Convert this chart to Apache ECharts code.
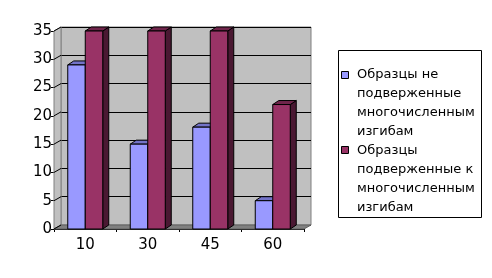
<!DOCTYPE html>
<html><head><meta charset="utf-8">
<script src="https://cdn.jsdelivr.net/npm/echarts@6/dist/echarts.min.js"></script>
<style>html,body{margin:0;padding:0;background:#fff}#c{width:492px;height:278px}</style>
</head><body><div id="c"></div>
<script>
const categories = ['10', '30', '45', '60'];
const seriesNames = ['Образцы не подверженные многочисленным изгибам', 'Образцы подверженные к многочисленным изгибам'];
const legendLines = [
  ['Образцы не', 'подверженные', 'многочисленным', 'изгибам'],
  ['Образцы', 'подверженные к', 'многочисленным', 'изгибам']
];
const notExposed = [29, 15, 18, 5];
const exposed = [35, 35, 35, 22];
const yTicks = [0, 5, 10, 15, 20, 25, 30, 35];

const FONT = 'DejaVu Sans';
const DX = 6, DY = -4;      // bar depth
const WX = 7, WY = -4;      // wall depth
const colors = [
  {front: '#9999FF', top: '#7373C8', side: '#5C5C99'},
  {front: '#993366', top: '#70254B', side: '#4A1832'}
];

function barRender(si) {
  return function (params, api) {
    const idx = api.value(0), v = api.value(1);
    const top = api.coord([idx, v]);
    const base = api.coord([idx, 0]);
    const band = api.size([1, 0])[0];
    const w = band * 0.28;
    const x0 = si === 0 ? top[0] - w : top[0];
    const x1 = x0 + w;
    const y0 = top[1], y1 = base[1];
    const c = colors[si];
    const st = {stroke: '#000', lineWidth: 1};
    return {type: 'group', children: [
      {type: 'polygon', shape: {points: [[x1, y0], [x1 + DX, y0 + DY], [x1 + DX, y1 + DY], [x1, y1]]}, style: Object.assign({fill: c.side}, st)},
      {type: 'polygon', shape: {points: [[x0, y0], [x0 + DX, y0 + DY], [x1 + DX, y0 + DY], [x1, y0]]}, style: Object.assign({fill: c.top}, st)},
      {type: 'rect', shape: {x: x0, y: y0, width: w, height: y1 - y0}, style: Object.assign({fill: c.front}, st)}
    ]};
  };
}

function wallRender(params, api) {
  const cs = params.coordSys;
  const x = cs.x, y = cs.y, h = cs.height, w = cs.width;
  const children = [
    {type: 'polygon', shape: {points: [[x, y + h], [x, y], [x + WX, y + WY], [x + WX, y + h + WY]]}, style: {fill: '#C0C0C0', stroke: '#808080', lineWidth: 1}},
    {type: 'polygon', shape: {points: [[x, y + h], [x + WX, y + h + WY], [x + w + WX, y + h + WY], [x + w, y + h]]}, style: {fill: '#808080', stroke: '#606060', lineWidth: 1}}
  ];
  yTicks.forEach(function (t) {
    const p = api.coord([0, t]);
    children.push({type: 'line', shape: {x1: x, y1: p[1], x2: x + WX, y2: p[1] + WY}, style: {stroke: '#000', lineWidth: 1}});
  });
  return {type: 'group', children: children};
}

const legendFont = '13px "' + FONT + '"';
const legendGraphics = [
  {type: 'rect', shape: {x: 338.5, y: 50.5, width: 143, height: 167}, style: {fill: '#fff', stroke: '#000', lineWidth: 1}},
  {type: 'rect', shape: {x: 341.5, y: 71.5, width: 7, height: 7}, style: {fill: colors[0].front, stroke: '#000', lineWidth: 1}},
  {type: 'text', x: 357, y: 65, style: {text: legendLines[0].join('\n'), font: legendFont, fill: '#000', lineHeight: 19, verticalAlign: 'top'}},
  {type: 'rect', shape: {x: 341.5, y: 146.5, width: 7, height: 7}, style: {fill: colors[1].front, stroke: '#000', lineWidth: 1}},
  {type: 'text', x: 357, y: 141, style: {text: legendLines[1].join('\n'), font: legendFont, fill: '#000', lineHeight: 19, verticalAlign: 'top'}}
];

const chart = echarts.init(document.getElementById('c'));
chart.setOption({
  animation: false,
  backgroundColor: '#fff',
  textStyle: {fontFamily: FONT},
  grid: [
    {left: 54 + WX, top: 31 + WY, width: 250, height: 198, show: true, backgroundColor: '#C0C0C0', borderColor: '#808080', borderWidth: 1},
    {left: 54, top: 31, width: 250, height: 198}
  ],
  xAxis: [
    {type: 'category', gridIndex: 0, data: categories, show: false},
    {type: 'category', gridIndex: 1, data: categories,
      axisLine: {lineStyle: {color: '#000', width: 1}},
      axisTick: {show: true, length: 3, lineStyle: {color: '#000'}},
      axisLabel: {color: '#000', fontSize: 15, margin: 9, fontFamily: FONT},
      splitLine: {show: false}}
  ],
  yAxis: [
    {type: 'value', gridIndex: 0, min: 0, max: 35, interval: 5,
      axisLine: {show: false}, axisTick: {show: false}, axisLabel: {show: false},
      splitLine: {show: true, lineStyle: {color: '#000', width: 1}}},
    {type: 'value', gridIndex: 1, min: 0, max: 35, interval: 5,
      axisLine: {show: true, lineStyle: {color: '#000', width: 1}},
      axisTick: {show: true, length: 3, lineStyle: {color: '#000'}},
      axisLabel: {color: '#000', fontSize: 15, margin: 2, fontFamily: FONT},
      splitLine: {show: false}}
  ],
  series: [
    {type: 'custom', name: 'walls', xAxisIndex: 1, yAxisIndex: 1, data: [[0, 0]], renderItem: wallRender, z: 1, silent: true},
    {type: 'custom', name: seriesNames[0], xAxisIndex: 1, yAxisIndex: 1,
      data: notExposed.map(function (v, i) { return [i, v]; }), renderItem: barRender(0), z: 2},
    {type: 'custom', name: seriesNames[1], xAxisIndex: 1, yAxisIndex: 1,
      data: exposed.map(function (v, i) { return [i, v]; }), renderItem: barRender(1), z: 3}
  ],
  graphic: legendGraphics
});
</script></body></html>
